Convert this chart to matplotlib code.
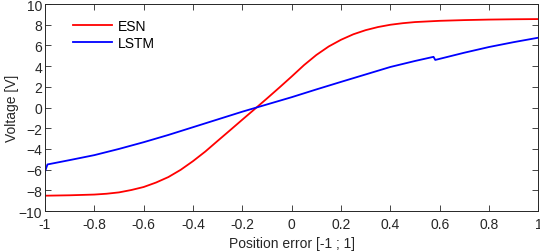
import matplotlib
matplotlib.use("Agg")
from matplotlib import pyplot as plt

# ESN curve
esn_x = [-1.0, -0.9, -0.8, -0.75, -0.7, -0.65, -0.6, -0.55, -0.5, -0.45, -0.4,
         -0.35, -0.3, -0.25, -0.2, -0.15, -0.1, -0.05, 0.0, 0.05, 0.1, 0.15,
         0.2, 0.25, 0.3, 0.35, 0.4, 0.45, 0.5, 0.6, 0.7, 0.8, 0.9, 1.0]
esn_y = [-8.52, -8.48, -8.41, -8.33, -8.2, -7.97, -7.68, -7.25, -6.72, -6.02, -5.18,
         -4.25, -3.22, -2.2, -1.17, -0.15, 0.88, 1.93, 3.0, 4.1, 5.08, 5.9,
         6.55, 7.08, 7.48, 7.78, 8.0, 8.15, 8.26, 8.38, 8.45, 8.5, 8.53, 8.55]

# LSTM curve
lstm_x = [-1.0, -0.99, -0.9, -0.8, -0.7, -0.6, -0.5, -0.4, -0.3, -0.2, -0.1,
          0.0, 0.1, 0.2, 0.3, 0.4, 0.5, 0.575, 0.582, 0.7, 0.8, 0.9, 1.0]
lstm_y = [-6.2, -5.5, -5.08, -4.6, -4.0, -3.35, -2.65, -1.9, -1.15, -0.4, 0.3,
          1.0, 1.75, 2.48, 3.2, 3.92, 4.5, 4.9, 4.6, 5.3, 5.85, 6.32, 6.75]

xticks = [-1, -0.8, -0.6, -0.4, -0.2, 0, 0.2, 0.4, 0.6, 0.8, 1]
xlabels = ["-1", "-0.8", "-0.6", "-0.4", "-0.2", "0", "0.2", "0.4", "0.6", "0.8", "1"]
yticks = [-10, -8, -6, -4, -2, 0, 2, 4, 6, 8, 10]

plt.rcParams['font.family'] = ['Liberation Sans', 'DejaVu Sans']
fs = 10

fig = plt.figure(figsize=(5.4, 2.53), dpi=100)
ax = fig.add_axes([0.0833, 0.162, 0.9137, 0.818])

ax.plot(esn_x, esn_y, color=(1, 0, 0), lw=1.3, label="ESN")
ax.plot(lstm_x, lstm_y, color=(0, 0, 1), lw=1.3, label="LSTM")

ax.set_xlim(-1, 1)
ax.set_ylim(-10, 10)
ax.set_xticks(xticks)
ax.set_xticklabels(xlabels)
ax.set_yticks(yticks)
ax.tick_params(direction="in", length=4, width=0.6, colors="#262626",
               labelsize=fs, top=True, right=True)
ax.tick_params(axis="x", pad=4)
ax.tick_params(axis="y", pad=2)
for s in ax.spines.values():
    s.set_color("#262626")
    s.set_linewidth(0.7)

ax.set_xlabel("Position error [-1 ; 1]", fontsize=fs, color="#262626", labelpad=4)
ax.set_ylabel("Voltage [V]", fontsize=fs, color="#262626", labelpad=0)

ax.legend(loc="upper left", frameon=False, fontsize=fs, handlelength=2.8,
          handletextpad=0.4, labelspacing=0.2, borderaxespad=0.4,
          bbox_to_anchor=(0.035, 0.98))

fig.savefig("out.png", dpi=100)
